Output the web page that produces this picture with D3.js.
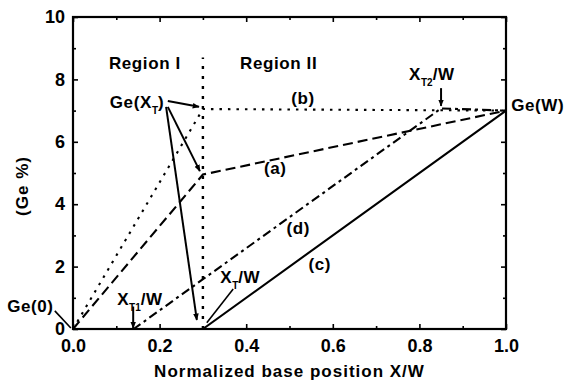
<!DOCTYPE html>
<html>
<head>
<meta charset="utf-8">
<script src="https://cdn.jsdelivr.net/npm/d3@7"></script>
<style>
  html, body { margin: 0; padding: 0; background: #fff; }
  text { font-family: "Liberation Sans", Arial, sans-serif; font-weight: bold; fill: #000; }
</style>
</head>
<body>
<svg id="chart" width="566" height="384"></svg>
<script>
// Ge profile across the base: position X/W and Ge content (%)
const xTicks = [0.0, 0.2, 0.4, 0.6, 0.8, 1.0];
const xTickLabels = ["0.0", "0.2", "0.4", "0.6", "0.8", "1.0"];
const xMinor = [0.1, 0.3, 0.5, 0.7, 0.9];
const yTicks = [0, 2, 4, 6, 8, 10];
const yTickLabels = ["0", "2", "4", "6", "8", "10"];
const yMinor = [1, 3, 5, 7, 9];

const posA = [0.00, 0.30, 1.00];
const geA  = [0.00, 4.95, 7.00];
const posB = [0.00, 0.30, 1.00];
const geB  = [0.00, 7.05, 7.00];
const posC = [0.00, 0.30, 1.00];
const geC  = [0.00, 0.00, 7.00];
const posD = [0.00, 0.14, 0.85, 1.00];
const geD  = [0.00, 0.00, 7.07, 7.00];

const regionBoundary = 0.30;   // X_T/W
const boundaryTop = 8.7;

const margin = { left: 73, right: 60, top: 17, bottom: 55 };
const W = 566, H = 384;
const svg = d3.select("#chart");

const x = d3.scaleLinear().domain([0, 1]).range([margin.left, W - margin.right]);
const y = d3.scaleLinear().domain([0, 10]).range([H - margin.bottom, margin.top]);

// arrowhead marker
const defs = svg.append("defs");
defs.append("marker")
  .attr("id", "arrow").attr("viewBox", "0 0 10 10")
  .attr("refX", 9).attr("refY", 5)
  .attr("markerWidth", 7).attr("markerHeight", 7)
  .attr("markerUnits", "userSpaceOnUse")
  .attr("orient", "auto")
  .append("path").attr("d", "M0,1 L10,5 L0,9 Z").attr("fill", "#000");

const line = d3.line().x(d => x(d[0])).y(d => y(d[1]));
const zip = (a, b) => a.map((v, i) => [v, b[i]]);

// region divider
svg.append("path")
  .attr("d", line([[regionBoundary, 0], [regionBoundary, boundaryTop]]))
  .attr("fill", "none").attr("stroke", "#000").attr("stroke-width", 2.4)
  .attr("stroke-dasharray", "3,7");

const series = [
  { name: "(b)", pts: zip(posB, geB), dash: "2.5,6" },
  { name: "(a)", pts: zip(posA, geA), dash: "10,5" },
  { name: "(d)", pts: zip(posD, geD), dash: "9,4,3,4" },
  { name: "(c)", pts: zip(posC, geC), dash: null }
];
series.forEach(s => {
  svg.append("path")
    .attr("d", line(s.pts))
    .attr("fill", "none").attr("stroke", "#000").attr("stroke-width", 2.1)
    .attr("stroke-dasharray", s.dash);
});

// axes
const inner = 5, minor = 3;
function addAxis(gen, transform, ticks, size, labels, padding) {
  const g = svg.append("g").attr("transform", transform)
    .call(gen.tickValues(ticks).tickSize(-size).tickPadding(padding)
      .tickFormat((d, i) => labels ? labels[i] : ""));
  g.select(".domain").remove();
  g.selectAll("line").attr("stroke", "#000").attr("stroke-width", 1.6);
  if (labels) {
    g.selectAll("text").attr("font-size", 18)
      .style("font-family", "'Liberation Sans', Arial, sans-serif").style("font-weight", "bold");
  } else {
    g.selectAll("text").remove();
  }
  return g;
}
const xB = `translate(0,${y(0)})`, xT = `translate(0,${y(10)})`;
const yL = `translate(${x(0)},0)`, yR = `translate(${x(1)},0)`;
addAxis(d3.axisBottom(x), xB, xTicks, inner, xTickLabels, 10);
addAxis(d3.axisBottom(x), xB, xMinor, minor, null, 10);
addAxis(d3.axisTop(x), xT, xTicks, inner, null, 3);
addAxis(d3.axisTop(x), xT, xMinor, minor, null, 3);
addAxis(d3.axisLeft(y), yL, yTicks, inner, yTickLabels, 8);
addAxis(d3.axisLeft(y), yL, yMinor, minor, null, 8);
addAxis(d3.axisRight(y), yR, yTicks, inner, null, 3);
addAxis(d3.axisRight(y), yR, yMinor, minor, null, 3);

svg.append("rect")
  .attr("x", x(0)).attr("y", y(10))
  .attr("width", x(1) - x(0)).attr("height", y(0) - y(10))
  .attr("fill", "none").attr("stroke", "#000").attr("stroke-width", 2.2);

// axis titles
svg.append("text")
  .attr("x", (x(0) + x(1)) / 2).attr("y", 377)
  .attr("text-anchor", "middle").attr("font-size", 17)
  .attr("letter-spacing", 1)
  .text("Normalized base position X/W");
svg.append("text")
  .attr("transform", `translate(28,${186}) rotate(-90)`)
  .attr("text-anchor", "middle").attr("font-size", 17)
  .attr("letter-spacing", 1)
  .text("(Ge %)");

// annotation text helper: plain strings, or {s: "..."} for a subscript
function label(px, py, parts, anchor) {
  const t = svg.append("text")
    .attr("x", x(px)).attr("y", y(py))
    .attr("text-anchor", anchor || "start")
    .attr("font-size", 17).attr("letter-spacing", 0.6);
  let shift = 0;
  parts.forEach(p => {
    if (typeof p === "object") {
      t.append("tspan").attr("font-size", 10).attr("dy", 6 - shift)
        .attr("letter-spacing", 0).text(p.s);
      shift = 6;
    } else {
      t.append("tspan").attr("dy", -shift).text(p);
      shift = 0;
    }
  });
  return t;
}
function pointer(x1, y1, x2, y2, head) {
  svg.append("line")
    .attr("x1", x(x1)).attr("y1", y(y1)).attr("x2", x(x2)).attr("y2", y(y2))
    .attr("stroke", "#000").attr("stroke-width", head ? 2 : 1.6)
    .attr("marker-end", head ? "url(#arrow)" : null);
}

label(0.166, 8.33, ["Region I"], "middle");
label(0.475, 8.33, ["Region II"], "middle");
label(0.085, 7.08, ["Ge(X", { s: "T" }, ")"]);
label(1.012, 7.0, ["Ge(W)"]);
label(-0.152, 0.54, ["Ge(0)"]);
label(0.531, 7.21, ["(b)"], "middle");
label(0.467, 4.97, ["(a)"], "middle");
label(0.520, 3.04, ["(d)"], "middle");
label(0.570, 1.89, ["(c)"], "middle");
label(0.776, 7.98, ["X", { s: "T2" }, "/W"]);
label(0.340, 1.47, ["X", { s: "T" }, "/W"]);
label(0.102, 0.77, ["X", { s: "T1" }, "/W"]);

// pointers from Ge(X_T) to the three profiles at X_T/W
pointer(0.219, 7.31, 0.291, 7.12, true);
pointer(0.219, 7.12, 0.293, 5.06, true);
pointer(0.215, 7.12, 0.286, 0.29, true);
pointer(0.370, 1.28, 0.309, 0.20, false);
pointer(0.139, 0.72, 0.139, 0.03, true);
pointer(0.850, 7.72, 0.850, 7.15, true);
pointer(-0.042, 0.58, -0.005, 0.03, false);
</script>
</body>
</html>
